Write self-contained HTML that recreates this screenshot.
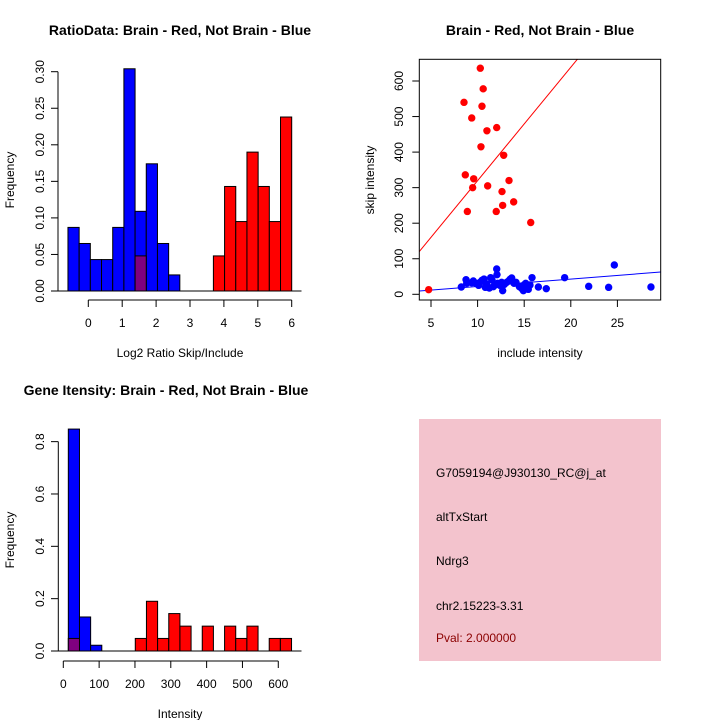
<!DOCTYPE html>
<html><head><meta charset="utf-8"><style>
html,body{margin:0;padding:0;background:#fff;}
svg{display:block;font-family:"Liberation Sans",sans-serif;}
</style></head><body>
<svg id="c" width="720" height="720" viewBox="0 0 720 720">
<rect x="0" y="0" width="720" height="720" fill="#fff"/>
</svg>
<script>
// ---- Panel 1: ratio histogram ----
const ratioBlue = [0.087,0.065,0.043,0.043,0.087,0.304,0.109,0.174,0.065,0.022,0,0,0,0,0,0,0,0,0,0];
const ratioRed  = [0,0,0,0,0,0,0.048,0,0,0,0,0,0,0.048,0.143,0.095,0.190,0.143,0.095,0.238];
const ratioXTicks = [0,1,2,3,4,5,6];
const ratioYTicks = ["0.00","0.05","0.10","0.15","0.20","0.25","0.30"];
// ---- Panel 2: scatter ----
const redInclude = [10.29,10.6,8.54,10.47,9.37,11.0,12.05,10.36,12.8,8.68,9.58,13.37,9.47,11.08,12.62,13.87,12.69,8.9,12.0,15.7,4.75];
const redSkip    = [636,578,540,529,496,460,469,415,391,336,325,320,300,305,289,260,250,233,233,202,13];
const blueInclude = [8.25,8.76,9.36,9.54,9.83,10.11,10.26,10.47,10.69,10.83,10.97,11.26,11.4,11.55,11.69,11.87,12.05,12.08,12.15,12.4,12.58,12.69,12.87,13.12,13.33,13.48,13.66,13.91,14.12,14.48,14.73,14.91,15.01,15.16,15.26,15.44,15.62,15.84,16.52,17.37,19.34,21.92,24.06,24.67,28.6,8.83];
const blueSkip    = [20.5,41,32.7,37.4,30.9,25.2,33.7,39.3,43,19.6,29,17.7,46.8,40.2,21.5,26.2,71.2,55.2,30.9,25.2,33.7,10.2,28,33.7,37.4,42.1,45.9,30.9,33.7,21.5,16.8,10.2,27.1,30.9,19.6,14,26.2,46.8,20.5,15.8,46.8,22.4,19.6,82.4,20.5,30.9];
const redFit = [0.7, 31.9];   // intercept, slope
const blueFit = [1.6, 2.06];
const scatXTicks = [5,10,15,20,25];
const scatYTicks = [0,100,200,300,400,500,600];
// ---- Panel 3: intensity histogram ----
const intBlue = [0.848,0.130,0.022,0,0,0,0,0,0,0,0,0,0,0,0,0,0,0,0,0];
const intRed  = [0.048,0,0,0,0,0,0.048,0.190,0.048,0.143,0.095,0,0.095,0,0.095,0.048,0.095,0,0.048,0.048];
const intXTicks = [0,100,200,300,400,500,600];
const intYTicks = ["0.0","0.2","0.4","0.6","0.8"];
// ---- Info box ----
const infoLines = ["G7059194@J930130_RC@j_at","altTxStart","Ndrg3","chr2.15223-3.31","Pval: 2.000000"];

const svg = document.getElementById('c');
const NS = 'http://www.w3.org/2000/svg';
function mk(tag, attrs, parent){ const e=document.createElementNS(NS,tag); for(const k in attrs) e.setAttribute(k,attrs[k]); (parent||svg).appendChild(e); return e; }
function txt(x,y,s,size,opts,parent){ const t=mk('text',Object.assign({x:x,y:y,'font-size':size,'text-anchor':'middle',fill:'#000'},opts||{}),parent); t.textContent=s; return t; }

// ===== Panel 1 =====
(function(){
  const g = mk('g',{});
  
  
  const x0=-0.6, bw=0.33;
  const X = v => 88.3 + (v-0)*33.9;
  const Y = v => 291 - v*731;
  function bar(i,val,col,name){
    if(val<=0) return;
    const r = mk('rect',{x:X(x0+i*bw),y:Y(val),width:X(x0+(i+1)*bw)-X(x0+i*bw),height:Y(0)-Y(val),fill:col,stroke:'#000','stroke-width':1},g);
    
    
  }
  ratioBlue.forEach((v,i)=>bar(i,v,'#0000ff','ratio-blue-bar'));
  ratioRed.forEach((v,i)=>bar(i,v, ratioBlue[i]>0?'#800080':'#ff0000','ratio-red-bar'));
  mk('line',{x1:52,x2:301.5,y1:Y(0),y2:Y(0),stroke:'#000'},g);
  const ya = mk('g',{},g);
  
  
  mk('line',{x1:58,x2:58,y1:Y(0),y2:Y(0.30),stroke:'#000'},ya);
  ratioYTicks.forEach(s=>{ const v=parseFloat(s); const y=Y(v);
    mk('line',{x1:51,x2:58,y1:y,y2:y,stroke:'#000'},ya);
    txt(0,0,s,12,{transform:`translate(44,${y}) rotate(-90)`},ya);
  });
  const xa = mk('g',{},g);
  
  
  mk('line',{x1:X(0),x2:X(6),y1:300,y2:300,stroke:'#000'},xa);
  ratioXTicks.forEach(v=>{ mk('line',{x1:X(v),x2:X(v),y1:300,y2:307,stroke:'#000'},xa); txt(X(v),327,String(v),12,{},xa); });
  const t=txt(180,35,'RatioData: Brain - Red, Not Brain - Blue',14,{'font-weight':'bold'},g);
   
  const xl=txt(180,357,'Log2 Ratio Skip/Include',12,{},g);
   
  const yl=txt(0,0,'Frequency',12,{transform:'translate(14,180) rotate(-90)'},g);
   
})();

// ===== Panel 2 =====
(function(){
  const g = mk('g',{});
  
  
  const X = v => 431 + (v-5)*9.32;
  const Y = v => 294.3 - v*0.3555;
  const L=419.3,R=660.7,T=59.3,B=300;
  const cp = mk('clipPath',{id:'sc'},g); mk('rect',{x:L,y:T,width:R-L,height:B-T},cp);
  const xmin=(L-431)/9.32+5, xmax=(R-431)/9.32+5;
  const rl = mk('line',{x1:X(xmin),y1:Y(redFit[0]+redFit[1]*xmin),x2:X(xmax),y2:Y(redFit[0]+redFit[1]*xmax),stroke:'#ff0000','clip-path':'url(#sc)'},g);
   
  const bl = mk('line',{x1:X(xmin),y1:Y(blueFit[0]+blueFit[1]*xmin),x2:X(xmax),y2:Y(blueFit[0]+blueFit[1]*xmax),stroke:'#0000ff','clip-path':'url(#sc)'},g);
   
  redInclude.forEach((v,i)=>{ const c=mk('circle',{cx:X(v),cy:Y(redSkip[i]),r:3.7,fill:'#ff0000'},g);
      });
  blueInclude.forEach((v,i)=>{ const c=mk('circle',{cx:X(v),cy:Y(blueSkip[i]),r:3.7,fill:'#0000ff'},g);
      });
  mk('rect',{x:L,y:T,width:R-L,height:B-T,fill:'none',stroke:'#000'},g);
  const xa=mk('g',{},g);
   
  scatXTicks.forEach(v=>{ mk('line',{x1:X(v),x2:X(v),y1:B,y2:B+7,stroke:'#000'},xa); txt(X(v),327,String(v),12,{},xa); });
  const ya=mk('g',{},g);
   
  scatYTicks.forEach(v=>{ const y=Y(v); mk('line',{x1:L-7,x2:L,y1:y,y2:y,stroke:'#000'},ya); txt(0,0,String(v),12,{transform:`translate(403,${y}) rotate(-90)`},ya); });
  const t=txt(540,35,'Brain - Red, Not Brain - Blue',14,{'font-weight':'bold'},g);
   
  const xl=txt(540,357,'include intensity',12,{},g);
   
  const yl=txt(0,0,'skip intensity',12,{transform:'translate(374,180) rotate(-90)'},g);
   
})();

// ===== Panel 3 =====
(function(){
  const g = mk('g',{});
  
  
  const x0=14, bw=31.15;
  const X = v => 63.3 + v*0.3583;
  const Y = v => 651 - v*261.7;
  function bar(i,val,col,name){
    if(val<=0) return;
    const r=mk('rect',{x:X(x0+i*bw),y:Y(val),width:X(x0+(i+1)*bw)-X(x0+i*bw),height:Y(0)-Y(val),fill:col,stroke:'#000','stroke-width':1},g);
    
    
  }
  intBlue.forEach((v,i)=>bar(i,v,'#0000ff','intensity-blue-bar'));
  intRed.forEach((v,i)=>bar(i,v,intBlue[i]>0?'#800080':'#ff0000','intensity-red-bar'));
  mk('line',{x1:52,x2:301.5,y1:Y(0),y2:Y(0),stroke:'#000'},g);
  const ya=mk('g',{},g);
   
  mk('line',{x1:58.3,x2:58.3,y1:Y(0),y2:Y(0.8),stroke:'#000'},ya);
  intYTicks.forEach(s=>{ const y=Y(parseFloat(s)); mk('line',{x1:51,x2:58.3,y1:y,y2:y,stroke:'#000'},ya); txt(0,0,s,12,{transform:`translate(44,${y}) rotate(-90)`},ya); });
  const xa=mk('g',{},g);
   
  mk('line',{x1:X(0),x2:X(600),y1:661,y2:661,stroke:'#000'},xa);
  intXTicks.forEach(v=>{ mk('line',{x1:X(v),x2:X(v),y1:661,y2:668,stroke:'#000'},xa); txt(X(v),688,String(v),12,{},xa); });
  const t=txt(166,395,'Gene Itensity: Brain - Red, Not Brain - Blue',14,{'font-weight':'bold'},g);
   
  const xl=txt(180,718,'Intensity',12,{},g);
   
  const yl=txt(0,0,'Frequency',12,{transform:'translate(14,540) rotate(-90)'},g);
   
})();

// ===== Info box =====
(function(){
  const g = mk('g',{});
  
  
  mk('rect',{x:419,y:419,width:242,height:242,fill:'#f3c3cd'},g);
  const ys=[477,521,565,610,642];
  infoLines.forEach((s,i)=>{ const t=txt(436,ys[i],s,12,{'text-anchor':'start',fill:i===4?'#8b0000':'#000'},g);
      });
})();
</script>
</body></html>
